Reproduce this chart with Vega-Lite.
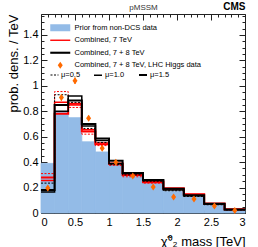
{
  "$schema": "https://vega.github.io/schema/vega-lite/v6.json",
  "width": 204,
  "height": 199,
  "autosize": {"type": "none"},
  "padding": {"left": 41, "top": 14, "right": 13, "bottom": 34},
  "background": "white",
  "datasets": {
    "prior": [
      {"lo": 0.0, "hi": 0.2, "prior": 0.39},
      {"lo": 0.2, "hi": 0.4, "prior": 0.79},
      {"lo": 0.4, "hi": 0.6, "prior": 0.75},
      {"lo": 0.6, "hi": 0.8, "prior": 0.56},
      {"lo": 0.8, "hi": 1.0, "prior": 0.48},
      {"lo": 1.0, "hi": 1.2, "prior": 0.38},
      {"lo": 1.2, "hi": 1.5, "prior": 0.29},
      {"lo": 1.5, "hi": 1.8, "prior": 0.235},
      {"lo": 1.8, "hi": 2.1, "prior": 0.17},
      {"lo": 2.1, "hi": 2.4, "prior": 0.13},
      {"lo": 2.4, "hi": 2.7, "prior": 0.065},
      {"lo": 2.7, "hi": 3.0, "prior": 0.02}
    ],
    "h7": [
      {"x": 0.0, "m05": 0.31, "m10": 0.255, "m15": 0.28},
      {"x": 0.2, "m05": 0.955, "m10": 0.87, "m15": 0.78},
      {"x": 0.4, "m05": 0.83, "m10": 0.85, "m15": 0.86},
      {"x": 0.6, "m05": 0.62, "m10": 0.655, "m15": 0.64},
      {"x": 0.8, "m05": 0.53, "m10": 0.55, "m15": 0.54},
      {"x": 1.0, "m05": 0.375, "m10": 0.385, "m15": 0.39},
      {"x": 1.2, "m05": 0.285, "m10": 0.296, "m15": 0.3},
      {"x": 1.5, "m05": 0.235, "m10": 0.24, "m15": 0.245},
      {"x": 1.8, "m05": 0.185, "m10": 0.19, "m15": 0.195},
      {"x": 2.1, "m05": 0.14, "m10": 0.145, "m15": 0.148},
      {"x": 2.4, "m05": 0.07, "m10": 0.073, "m15": 0.075},
      {"x": 2.7, "m05": 0.026, "m10": 0.028, "m15": 0.03},
      {"x": 3.0, "m05": 0.026, "m10": 0.028, "m15": 0.03}
    ],
    "h78": [
      {"x": 0.0, "m05": 0.235, "m10": 0.165, "m15": 0.18},
      {"x": 0.2, "m05": 0.93, "m10": 0.8, "m15": 0.85},
      {"x": 0.4, "m05": 0.87, "m10": 0.92, "m15": 0.885},
      {"x": 0.6, "m05": 0.665, "m10": 0.685, "m15": 0.7},
      {"x": 0.8, "m05": 0.555, "m10": 0.57, "m15": 0.585},
      {"x": 1.0, "m05": 0.38, "m10": 0.39, "m15": 0.41},
      {"x": 1.2, "m05": 0.3, "m10": 0.31, "m15": 0.315},
      {"x": 1.5, "m05": 0.25, "m10": 0.255, "m15": 0.26},
      {"x": 1.8, "m05": 0.175, "m10": 0.18, "m15": 0.19},
      {"x": 2.1, "m05": 0.13, "m10": 0.135, "m15": 0.14},
      {"x": 2.4, "m05": 0.065, "m10": 0.07, "m15": 0.072},
      {"x": 2.7, "m05": 0.024, "m10": 0.026, "m15": 0.028},
      {"x": 3.0, "m05": 0.024, "m10": 0.026, "m15": 0.028}
    ],
    "higgs": [
      {"x": 0.1, "y": 0.196, "ylo": 0.176, "yhi": 0.216},
      {"x": 0.3, "y": 0.908, "ylo": 0.883, "yhi": 0.933},
      {"x": 0.5, "y": 1.04, "ylo": 1.015, "yhi": 1.065},
      {"x": 0.7, "y": 0.746, "ylo": 0.726, "yhi": 0.766},
      {"x": 0.9, "y": 0.51, "ylo": 0.49, "yhi": 0.53},
      {"x": 1.1, "y": 0.4, "ylo": 0.385, "yhi": 0.415},
      {"x": 1.35, "y": 0.29, "ylo": 0.278, "yhi": 0.302},
      {"x": 1.65, "y": 0.204, "ylo": 0.192, "yhi": 0.216},
      {"x": 1.95, "y": 0.126, "ylo": 0.116, "yhi": 0.136},
      {"x": 2.25, "y": 0.11, "ylo": 0.1, "yhi": 0.12},
      {"x": 2.55, "y": 0.055, "ylo": 0.047, "yhi": 0.063},
      {"x": 2.85, "y": 0.02, "ylo": 0.014, "yhi": 0.026}
    ]
  },
  "config": {
    "view": {"stroke": "#222", "strokeWidth": 1},
    "font": "Liberation Sans",
    "axis": {
      "domain": false,
      "grid": false,
      "tickColor": "#222",
      "tickWidth": 1,
      "labelFont": "Liberation Sans",
      "labelFontSize": 11,
      "labelColor": "black",
      "titleFont": "Liberation Sans",
      "titleFontSize": 13,
      "titleFontWeight": "normal",
      "titleColor": "black"
    },
    "legend": {
      "labelFont": "Liberation Sans",
      "labelColor": "black",
      "labelFontSize": 7.5,
      "labelLimit": 300
    }
  },
  "layer": [
    {
      "data": {"name": "prior"},
      "mark": {"type": "rect", "color": "#93bbe7", "stroke": "#93bbe7", "strokeWidth": 0.8, "opacity": 1},
      "encoding": {
        "x": {"field": "lo", "type": "quantitative", "scale": {"domain": [0, 3], "nice": false},
          "axis": {"orient": "bottom", "values": [0, 0.5, 1, 1.5, 2, 2.5, 3], "format": "~g", "tickSize": -6, "labelPadding": 9,
            "title": "χ̃⁰₂ mass [TeV]", "titleAnchor": "end", "titlePadding": 8}},
        "x2": {"field": "hi"},
        "y": {"field": "prior", "type": "quantitative", "scale": {"domain": [0, 1.565], "nice": false},
          "axis": {"orient": "left", "values": [0, 0.2, 0.4, 0.6, 0.8, 1, 1.2, 1.4], "format": "~g", "tickSize": -6, "labelPadding": 9,
            "title": "prob. dens. / TeV", "titleAnchor": "end", "titlePadding": 2}},
        "y2": {"datum": 0},
        "color": {"datum": "Prior from non-DCS data", "type": "nominal",
          "scale": {"domain": ["Prior from non-DCS data", "Combined, 7 TeV", "Combined, 7 + 8 TeV", "Combined, 7 + 8 TeV, LHC Higgs data"],
            "range": ["#93bbe7", "#ff0000", "#000000", "#ff6a00"]},
          "legend": {"title": null, "orient": "none", "legendX": 15.5, "legendY": 10, "symbolSize": 49, "labelOffset": 10.5, "rowPadding": 3.5, "padding": 0, "symbolStrokeWidth": 0, "symbolOpacity": 1}}
      }
    },
    {
      "data": {"name": "h7"},
      "transform": [{"fold": ["m15", "m05", "m10"], "as": ["mu", "val"]}],
      "mark": {"type": "line", "interpolate": "step-after"},
      "encoding": {
        "x": {"field": "x", "type": "quantitative", "scale": {"domain": [0, 3], "nice": false},
          "axis": {"orient": "bottom", "values": [0.1,0.2,0.3,0.4,0.6,0.7,0.8,0.9,1.1,1.2,1.3,1.4,1.6,1.7,1.8,1.9,2.1,2.2,2.3,2.4,2.6,2.7,2.8,2.9], "tickSize": -3, "labels": false, "title": null}},
        "y": {"field": "val", "type": "quantitative", "scale": {"domain": [0, 1.565], "nice": false},
          "axis": {"orient": "left", "values": [0.05,0.1,0.15,0.25,0.3,0.35,0.45,0.5,0.55,0.65,0.7,0.75,0.85,0.9,0.95,1.05,1.1,1.15,1.25,1.3,1.35,1.45,1.5,1.55], "tickSize": -3, "labels": false, "title": null}},
        "color": {"datum": "Combined, 7 TeV", "type": "nominal"},
        "strokeDash": {"field": "mu", "type": "ordinal", "scale": {"domain": ["m05", "m10", "m15"], "range": [[2, 1.5], [1, 0], [1, 0]]},
          "legend": {"title": null, "orient": "none", "direction": "horizontal", "legendX": 9, "legendY": 56, "symbolType": "stroke", "symbolSize": 64, "symbolStrokeColor": "black", "labelOffset": 2, "columnPadding": 10, "padding": 0,
            "labelExpr": "datum.label == 'm05' ? 'μ=0.5' : datum.label == 'm10' ? 'μ=1.0' : 'μ=1.5'"}},
        "strokeWidth": {"field": "mu", "type": "ordinal", "scale": {"domain": ["m05", "m10", "m15"], "range": [1, 2, 0.8]},
          "legend": {"title": null, "orient": "none", "direction": "horizontal", "legendX": 9, "legendY": 56, "symbolType": "stroke", "symbolSize": 64, "symbolStrokeColor": "black", "labelOffset": 2, "columnPadding": 10, "padding": 0,
            "labelExpr": "datum.label == 'm05' ? 'μ=0.5' : datum.label == 'm10' ? 'μ=1.0' : 'μ=1.5'"}},
        "opacity": {"field": "mu", "type": "ordinal", "scale": {"domain": ["m05", "m10", "m15"], "range": [1, 1, 0.4]},
          "legend": {"title": null, "orient": "none", "direction": "horizontal", "legendX": 9, "legendY": 56, "symbolType": "stroke", "symbolSize": 64, "symbolStrokeColor": "black", "labelOffset": 2, "columnPadding": 10, "padding": 0,
            "labelExpr": "datum.label == 'm05' ? 'μ=0.5' : datum.label == 'm10' ? 'μ=1.0' : 'μ=1.5'"}}
      }
    },
    {
      "data": {"name": "h78"},
      "transform": [{"fold": ["m15", "m05", "m10"], "as": ["mu", "val"]}],
      "mark": {"type": "line", "interpolate": "step-after"},
      "encoding": {
        "x": {"field": "x", "type": "quantitative", "scale": {"domain": [0, 3], "nice": false},
          "axis": {"orient": "top", "values": [0, 0.5, 1, 1.5, 2, 2.5, 3], "tickSize": -6, "labels": false,
            "title": "pMSSM", "titleFontSize": 8, "titleAnchor": "middle", "titlePadding": 2, "titleColor": "#333"}},
        "y": {"field": "val", "type": "quantitative", "scale": {"domain": [0, 1.565], "nice": false},
          "axis": {"orient": "right", "values": [0, 0.2, 0.4, 0.6, 0.8, 1, 1.2, 1.4], "tickSize": -6, "labels": false, "title": null}},
        "color": {"datum": "Combined, 7 + 8 TeV", "type": "nominal"},
        "strokeDash": {"field": "mu", "type": "ordinal"},
        "strokeWidth": {"field": "mu", "type": "ordinal"},
        "opacity": {"field": "mu", "type": "ordinal"}
      }
    },
    {
      "data": {"name": "higgs"},
      "mark": {"type": "rule", "color": "#ff6a00", "strokeWidth": 1.2},
      "encoding": {
        "x": {"field": "x", "type": "quantitative", "axis": null},
        "y": {"field": "ylo", "type": "quantitative", "axis": null},
        "y2": {"field": "yhi"}
      }
    },
    {
      "data": {"name": "higgs"},
      "mark": {"type": "point", "filled": true, "size": 49, "opacity": 1},
      "encoding": {
        "x": {"field": "x", "type": "quantitative", "scale": {"domain": [0, 3], "nice": false},
          "axis": {"orient": "top", "values": [0.1,0.2,0.3,0.4,0.6,0.7,0.8,0.9,1.1,1.2,1.3,1.4,1.6,1.7,1.8,1.9,2.1,2.2,2.3,2.4,2.6,2.7,2.8,2.9], "tickSize": -3, "labels": false,
            "title": "CMS", "titleFontSize": 10, "titleFontWeight": "bold", "titleAnchor": "end", "titlePadding": 2}},
        "y": {"field": "y", "type": "quantitative", "scale": {"domain": [0, 1.565], "nice": false},
          "axis": {"orient": "right", "values": [0.05,0.1,0.15,0.25,0.3,0.35,0.45,0.5,0.55,0.65,0.7,0.75,0.85,0.9,0.95,1.05,1.1,1.15,1.25,1.3,1.35,1.45,1.5,1.55], "tickSize": -3, "labels": false, "title": null}},
        "color": {"datum": "Combined, 7 + 8 TeV, LHC Higgs data", "type": "nominal"},
        "shape": {"datum": "Combined, 7 + 8 TeV, LHC Higgs data", "type": "nominal",
          "scale": {"domain": ["Prior from non-DCS data", "Combined, 7 TeV", "Combined, 7 + 8 TeV", "Combined, 7 + 8 TeV, LHC Higgs data"],
            "range": ["M-2.857,-1H2.857V1H-2.857Z", "M-2.857,-0.2H2.857V0.2H-2.857Z", "M-2.857,-0.3H2.857V0.3H-2.857Z", "M0,-1L0.714,0L0,1L-0.714,0Z"]},
          "legend": {"title": null, "orient": "none", "legendX": 15.5, "legendY": 10, "symbolSize": 49, "labelOffset": 10.5, "rowPadding": 3.5, "padding": 0, "symbolStrokeWidth": 0, "symbolOpacity": 1}}
      }
    }
  ],
  "resolve": {"axis": {"x": "independent", "y": "independent"}}
}
